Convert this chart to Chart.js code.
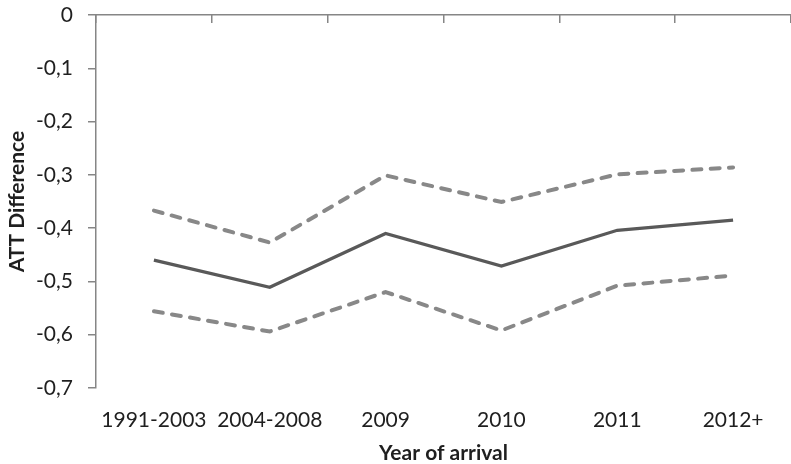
<!DOCTYPE html>
<html>
<head>
<title>ATT Difference by year of arrival</title>
<script src="https://cdn.jsdelivr.net/npm/chart.js@4.4.1/dist/chart.umd.min.js"></script>
<style>
html, body {
margin: 0;
padding: 0;
background: #ffffff;
}
#wrap {
width: 791px;
height: 464px;
}
</style>
</head>
<body>
<div id="wrap"><canvas id="line1"></canvas></div>
<script>
var categories = ['1991-2003', '2004-2008', '2009', '2010', '2011', '2012+'];
var att_mid = [-0.460, -0.511, -0.410, -0.471, -0.404, -0.385];
var att_upper = [-0.367, -0.427, -0.301, -0.351, -0.299, -0.286];
var att_lower = [-0.556, -0.594, -0.520, -0.592, -0.508, -0.489];
var y_ticks = [0, -0.1, -0.2, -0.3, -0.4, -0.5, -0.6, -0.7];

var axis_color = '#868686';
var text_color = '#1f1f1f';
var font_name = 'Lato';

function dashed(data) {
  return {
    data: data,
    borderColor: '#888888',
    borderWidth: 4,
    borderDash: [9, 9.3],
    borderCapStyle: 'round',
    pointRadius: 0,
    tension: 0,
    fill: false
  };
}

var ctx = document.getElementById('line1').getContext('2d');
var chart = new Chart(ctx, {
type: 'line',
data: {
  labels: categories,
  datasets: [
    {
      data: att_mid,
      borderColor: '#595959',
      borderWidth: 3.3,
      pointRadius: 0,
      tension: 0,
      fill: false
    },
    dashed(att_upper),
    dashed(att_lower)
  ]
},
options: {
  responsive: true,
  maintainAspectRatio: false,
  animation: false,
  layout: { padding: 0 },
  plugins: { legend: { display: false }, tooltip: { enabled: false } },
  scales: {
    x: {
      position: 'bottom',
      offset: true,
      grid: { display: false, drawTicks: false },
      border: { display: false },
      ticks: { color: text_color, padding: 20, maxRotation: 0, font: { family: font_name, size: 21 } },
      title: {
        display: true,
        text: 'Year of arrival',
        color: text_color,
        padding: { top: 0, bottom: -2 },
        font: { family: font_name, size: 21, weight: 'bold' }
      },
      afterFit: function (s) { s.height = 76; }
    },
    // axis line along y = 0 with short inward ticks between categories
    x2: {
      type: 'category',
      position: 'top',
      offset: true,
      grid: { offset: true, drawOnChartArea: false, tickLength: -8, color: axis_color, lineWidth: 1.5 },
      border: { color: axis_color, width: 1.5 },
      ticks: { display: false },
      afterFit: function (s) { s.height = 0; }
    },
    y: {
      min: -0.7,
      max: 0,
      afterBuildTicks: function (scale) {
        scale.ticks = y_ticks.map(function (v) { return { value: v }; });
      },
      grid: { drawOnChartArea: false, tickLength: 8, color: axis_color, lineWidth: 1.5 },
      border: { color: axis_color, width: 1.5 },
      ticks: {
        color: text_color,
        padding: 15,
        font: { family: font_name, size: 21 },
        callback: function (v) {
          return v === 0 ? '0' : v.toFixed(1).replace('.', ',');
        }
      },
      title: {
        display: true,
        text: 'ATT Difference',
        color: text_color,
        padding: { top: 5, bottom: 5 },
        font: { family: font_name, size: 21, weight: 'bold' }
      },
      afterFit: function (s) {
        s.width = 96;
        s.paddingTop = 15;
        s.paddingBottom = 0;
      }
    }
  }
}
});
</script>
</body>
</html>
